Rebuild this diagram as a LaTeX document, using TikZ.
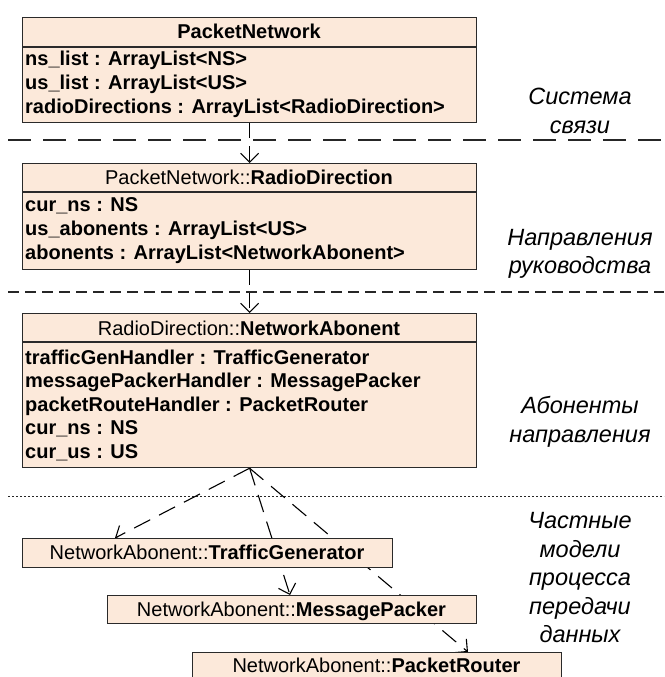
\documentclass[tikz,border=0pt]{standalone}
\usepackage{fontspec}
\setmainfont{Liberation Sans}
\usetikzlibrary{arrows.meta,backgrounds}
\definecolor{boxfill}{HTML}{FCE9DA}
\definecolor{boxline}{HTML}{2A2A2A}
\begin{document}
\begin{tikzpicture}[x=1pt,y=-1pt,
  umlbox/.style={draw=boxline,fill=boxfill,line width=1.2pt,inner sep=0pt,anchor=north west},
  divider/.style={draw=boxline,line width=1.2pt},
  attr/.style={anchor=base west,inner sep=0pt,font=\fontsize{20}{23.5}\selectfont\bfseries},
  hdr/.style={anchor=base,inner sep=0pt,font=\fontsize{20}{23.5}\selectfont},
  lbl/.style={align=center,inner sep=0pt,font=\fontsize{23.5}{28.5}\selectfont\itshape},
  barb/.tip={Straight Barb[length=9pt,width=18pt,line width=1.1pt]},
  vdep/.style={draw=black,line width=1.1pt,dash pattern=on 15pt off 8pt,-barb},
  dep/.style={draw=black,line width=1.1pt,dash pattern=on 18pt off 10pt,-barb},
  sepA/.style={draw=black!85,line width=1.2pt,dash pattern=on 23pt off 12pt},
  sepB/.style={draw=black!85,line width=1.1pt,dash pattern=on 11pt off 6pt},
  sepC/.style={draw=black!85,line width=1pt,dash pattern=on 2pt off 2pt}]
\useasboundingbox (0,0) rectangle (664,677);

% boxes
\node[umlbox,minimum width=454pt,minimum height=105pt] (pn) at (22,17) {};
\node[umlbox,minimum width=454pt,minimum height=106pt] (rd) at (22,163) {};
\node[umlbox,minimum width=454pt,minimum height=154pt] (na) at (22,313) {};
\node[umlbox,minimum width=370pt,minimum height=29pt] (tg) at (22,538) {};
\node[umlbox,minimum width=369pt,minimum height=28pt] (mp) at (107,595) {};
\node[umlbox,minimum width=369pt,minimum height=30pt] (pr) at (192,652) {};

\draw[divider] ([yshift=-30pt]pn.north west) -- ([yshift=-30pt]pn.north east);
\draw[divider] ([yshift=-29pt]rd.north west) -- ([yshift=-29pt]rd.north east);
\draw[divider] ([yshift=-29pt]na.north west) -- ([yshift=-29pt]na.north east);

% separators
\coordinate (s1l) at (8,140);  \coordinate (s1r) at (664,140);
\coordinate (s2l) at (8,292);  \coordinate (s2r) at (664,292);
\coordinate (s3l) at (8,496);  \coordinate (s3r) at (664,496);

\begin{pgfonlayer}{background}
\draw[sepA] (s1l) -- (s1r);
\draw[sepB] (s2l) -- (s2r);
\draw[sepC] (s3l) -- (s3r);
\draw[vdep] (pn.south) -- (rd.north);
\draw[vdep] (rd.south) -- (na.north);
\draw[dep] (na.south) -- ([xshift=93pt]tg.north west);
\draw[dep] (na.south) -- ([xshift=183pt]mp.north west);
\draw[dep] (na.south) -- ([xshift=276pt]pr.north west);
\end{pgfonlayer}

% texts box 1
\node[hdr] (pnh) at (249,39) {\bfseries PacketNetwork};
\node[attr] (pn1) at (25,66) {ns\_list : ArrayList<NS>};
\node[attr] (pn2) at (25,89.5) {us\_list : ArrayList<US>};
\node[attr] (pn3) at (25,113) {radioDirections : ArrayList<RadioDirection>};
% box 2
\node[hdr] (rdh) at (249,184) {PacketNetwork::\textbf{RadioDirection}};
\node[attr] (rd1) at (25,211) {cur\_ns : NS};
\node[attr] (rd2) at (25,235) {us\_abonents : ArrayList<US>};
\node[attr] (rd3) at (25,259) {abonents : ArrayList<NetworkAbonent>};
% box 3
\node[hdr] (nah) at (249,335) {RadioDirection::\textbf{NetworkAbonent}};
\node[attr] (na1) at (25,364) {trafficGenHandler : TrafficGenerator};
\node[attr] (na2) at (25,387.5) {messagePackerHandler : MessagePacker};
\node[attr] (na3) at (25,411) {packetRouteHandler : PacketRouter};
\node[attr] (na4) at (25,434.5) {cur\_ns : NS};
\node[attr] (na5) at (25,458) {cur\_us : US};
% small boxes
\node[hdr] (tgt) at (207,559) {NetworkAbonent::\textbf{TrafficGenerator}};
\node[hdr] (mpt) at (291.5,616) {NetworkAbonent::\textbf{MessagePacker}};
\node[hdr] (prt) at (376.5,672) {NetworkAbonent::\textbf{PacketRouter}};

% right labels
\node[lbl] (l1) at (580,111) {Система\\связи};
\node[lbl] (l2) at (580,254) {Направления\\руководства};
\node[lbl] (l3) at (580,422) {Абоненты\\направления};
\node[lbl] (l4) at (580,578) {Частные\\модели\\процесса\\передачи\\данных};
\end{tikzpicture}
\end{document}
